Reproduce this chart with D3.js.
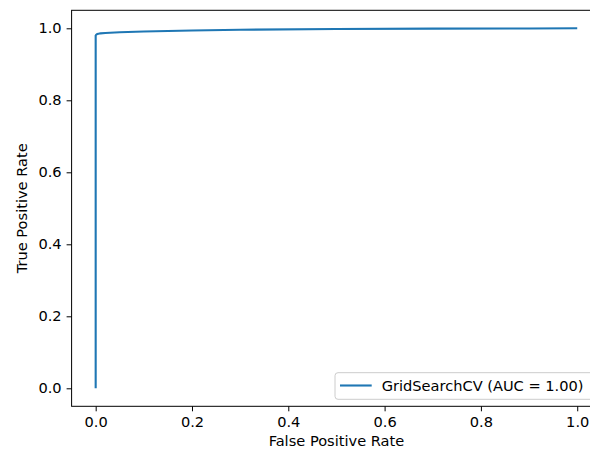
<!DOCTYPE html>
<html><head><meta charset="utf-8">
<script src="https://cdn.jsdelivr.net/npm/d3@7"></script>
<style>body{margin:0;background:#fff}svg{display:block}text{font-family:"DejaVu Sans",sans-serif}</style>
</head><body>
<script>
const fpr = [0, 0, 0.001, 0.003, 0.006, 0.01, 0.02, 0.05, 0.1, 0.2, 0.3, 0.5, 0.7, 0.9, 1.0];
const tpr = [0, 0.980, 0.982, 0.984, 0.985, 0.986, 0.987, 0.989, 0.991, 0.994, 0.996, 0.998, 0.999, 0.9995, 1.0];
const xTicks = [0.0, 0.2, 0.4, 0.6, 0.8, 1.0];
const yTicks = [0.0, 0.2, 0.4, 0.6, 0.8, 1.0];
const legendLabel = "GridSearchCV (AUC = 1.00)";
const xLabel = "False Positive Rate";
const yLabel = "True Positive Rate";

const W = 590, H = 455;
const L = 71.6, R = 601.3, T = 10.3, B = 406.3;
const fs = 14.6;
const svg = d3.select("body").append("svg").attr("width", W).attr("height", H);
const x = d3.scaleLinear().domain([-0.05, 1.05]).range([L, R]);
const y = d3.scaleLinear().domain([-0.05, 1.05]).range([B, T]);

const data = fpr.map((f, i) => [f, tpr[i]]);
svg.append("path").datum(data)
  .attr("d", d3.line().x(d => x(d[0])).y(d => y(d[1])))
  .attr("fill", "none").attr("stroke", "#1f77b4").attr("stroke-width", 2.1)
  .attr("stroke-linejoin", "round").attr("stroke-linecap", "butt");

const xa = svg.append("g").attr("transform", `translate(0,${B})`)
  .call(d3.axisBottom(x).tickValues(xTicks).tickFormat(d3.format(".1f")).tickSizeInner(5).tickSizeOuter(0).tickPadding(5));
const ya = svg.append("g").attr("transform", `translate(${L},0)`)
  .call(d3.axisLeft(y).tickValues(yTicks).tickFormat(d3.format(".1f")).tickSizeInner(5).tickSizeOuter(0).tickPadding(5));
[xa, ya].forEach(a => {
  a.select(".domain").remove();
  a.selectAll("line").attr("stroke", "#000").attr("stroke-width", 1);
  a.selectAll("text").attr("fill", "#000").style("font-size", fs + "px").style("font-family", '"DejaVu Sans",sans-serif');
});

svg.append("rect").attr("x", L).attr("y", T).attr("width", R - L).attr("height", B - T)
  .attr("fill", "none").attr("stroke", "#000").attr("stroke-width", 1);

svg.append("text").attr("x", (L + R) / 2).attr("y", 446).attr("text-anchor", "middle")
  .style("font-size", fs + "px").text(xLabel);
svg.append("text").attr("transform", `translate(27,${(T + B) / 2}) rotate(-90)`).attr("text-anchor", "middle")
  .style("font-size", fs + "px").text(yLabel);

// legend
const lg = svg.append("g");
lg.append("rect").attr("x", 335).attr("y", 372.7).attr("width", 594 - 335).attr("height", 399.3 - 372.7)
  .attr("rx", 3).attr("fill", "#fff").attr("fill-opacity", 0.8).attr("stroke", "#cccccc").attr("stroke-width", 1);
lg.append("line").attr("x1", 340).attr("x2", 371.7).attr("y1", 385.5).attr("y2", 385.5)
  .attr("stroke", "#1f77b4").attr("stroke-width", 2.1);
lg.append("text").attr("x", 381.7).attr("y", 390.8).style("font-size", fs + "px").text(legendLabel);
</script>
</body></html>
